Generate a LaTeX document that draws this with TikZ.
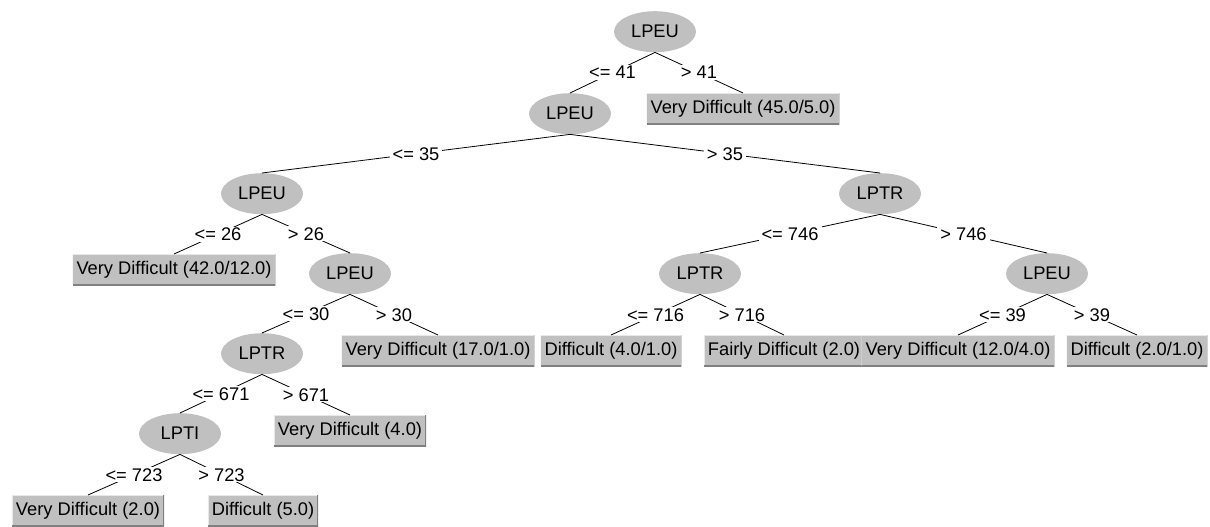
\documentclass[tikz,border=0pt]{standalone}
\usepackage{fontspec}
\setmainfont{Liberation Sans}
\usetikzlibrary{shapes.geometric}
\definecolor{wfill}{HTML}{C0C0C0}
\definecolor{wdark}{HTML}{808080}
\definecolor{wlight}{HTML}{E8E8E8}
\tikzset{
  x=1pt, y=-1pt,
  every node/.style={font=\fontsize{18.3}{21}\selectfont},
  split/.style={ellipse, fill=wfill, minimum width=82pt, minimum height=41pt, inner sep=0pt, anchor=north},
  leaf/.style={rectangle, fill=wfill, minimum height=31pt, inner xsep=4pt, inner ysep=0pt, anchor=north,
    path picture={
      \draw[wlight, line width=1.5pt] (path picture bounding box.south west) -- (path picture bounding box.north west) -- (path picture bounding box.north east);
      \draw[wdark, line width=1.5pt] (path picture bounding box.north east) -- (path picture bounding box.south east) -- (path picture bounding box.south west);
    }},
  edge/.style={draw=black, line width=0.8pt},
  elabel/.style={fill=white, inner xsep=3pt, inner ysep=1pt}
}
\begin{document}
\begin{tikzpicture}
\useasboundingbox[fill=white] (0,0) rectangle (1210,527);
% level 0
\node[split] (r) at (655,11) {LPEU};
% level 1
\node[split] (a) at (570,93) {LPEU};
\node[leaf] (b) at (743,93) {Very Difficult (45.0/5.0)};
% level 2
\node[split] (c) at (262,173) {LPEU};
\node[split] (d) at (880,173) {LPTR};
% level 3
\node[leaf] (e) at (174,254) {Very Difficult (42.0/12.0)};
\node[split] (f) at (350,253) {LPEU};
\node[split] (m) at (700,253) {LPTR};
\node[split] (n) at (1047,253) {LPEU};
% level 4
\node[split] (g) at (262,333) {LPTR};
\node[leaf] (h) at (438,335) {Very Difficult (17.0/1.0)};
\node[leaf] (o) at (611,335) {Difficult (4.0/1.0)};
\node[leaf] (p) at (784,335) {Fairly Difficult (2.0)};
\node[leaf] (q) at (958,335) {Very Difficult (12.0/4.0)};
\node[leaf] (s) at (1137,335) {Difficult (2.0/1.0)};
% level 5
\node[split] (i) at (180,413) {LPTI};
\node[leaf] (j) at (350,415) {Very Difficult (4.0)};
% level 6
\node[leaf] (k) at (88,495) {Very Difficult (2.0)};
\node[leaf] (l) at (263,495) {Difficult (5.0)};
% edges
\draw[edge] (r.south) -- node[elabel] {<= 41} (a.north);
\draw[edge] (r.south) -- node[elabel] {> 41} (b.north);
\draw[edge] (a.south) -- node[elabel] {<= 35} (c.north);
\draw[edge] (a.south) -- node[elabel] {> 35} (d.north);
\draw[edge] (c.south) -- node[elabel] {<= 26} (e.north);
\draw[edge] (c.south) -- node[elabel] {> 26} (f.north);
\draw[edge] (f.south) -- node[elabel] {<= 30} (g.north);
\draw[edge] (f.south) -- node[elabel] {> 30} (h.north);
\draw[edge] (g.south) -- node[elabel] {<= 671} (i.north);
\draw[edge] (g.south) -- node[elabel] {> 671} (j.north);
\draw[edge] (i.south) -- node[elabel] {<= 723} (k.north);
\draw[edge] (i.south) -- node[elabel] {> 723} (l.north);
\draw[edge] (d.south) -- node[elabel] {<= 746} (m.north);
\draw[edge] (d.south) -- node[elabel] {> 746} (n.north);
\draw[edge] (m.south) -- node[elabel] {<= 716} (o.north);
\draw[edge] (m.south) -- node[elabel] {> 716} (p.north);
\draw[edge] (n.south) -- node[elabel] {<= 39} (q.north);
\draw[edge] (n.south) -- node[elabel] {> 39} (s.north);
\end{tikzpicture}
\end{document}
